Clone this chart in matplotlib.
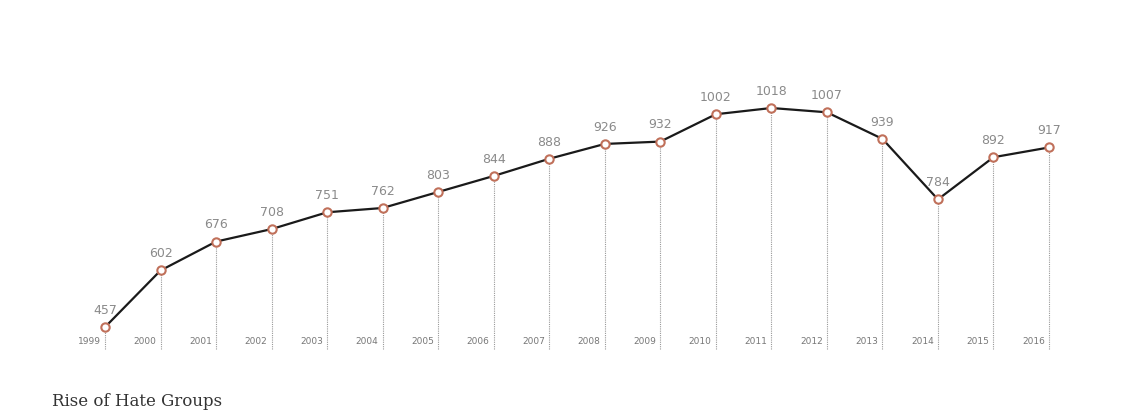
import matplotlib
matplotlib.use("Agg")
import matplotlib.pyplot as plt
from matplotlib.transforms import offset_copy

years = list(range(1999, 2017))
groups = [457, 602, 676, 708, 751, 762, 803, 844, 888, 926, 932,
          1002, 1018, 1007, 939, 784, 892, 917]
year_labels = [str(y) for y in years]

fig = plt.figure(figsize=(11.4, 4.14), dpi=100)
ax = fig.add_axes([105 / 1140, 64 / 414, (1049 - 105) / 1140, (350 - 109) / 414])
ax.set_xlim(1999, 2016)
ax.set_ylim(401, 1018)
ax.axis("off")

for x, v in zip(years, groups):
    ax.plot([x, x], [401, v], color="#999999", lw=0.8, ls=(0, (1, 1)), clip_on=False, zorder=1)

ax.plot(years, groups, color="#1a1a1a", lw=1.6, marker="o", ms=6,
        mfc="white", mec="#c0705a", mew=1.5, clip_on=False, zorder=3)

lbl_tr = offset_copy(ax.transData, fig=fig, x=0, y=8, units="points")
for x, v in zip(years, groups):
    ax.text(x, v, str(v), transform=lbl_tr, ha="center", va="bottom",
            fontsize=9, color="#8a8a8a", fontfamily="DejaVu Sans Condensed" if False else "DejaVu Sans")

yr_tr = offset_copy(ax.transData, fig=fig, x=-3, y=3, units="points")
for x, lab in zip(years, year_labels):
    ax.text(x, 401, lab, transform=yr_tr, ha="right", va="bottom",
            fontsize=6.5, color="#777777")

fig.text(52 / 1140, 1 - 402 / 414, "Rise of Hate Groups", ha="left", va="center",
         fontsize=12, color="#333333", fontfamily="DejaVu Serif")

fig.savefig("out.png", dpi=100)
